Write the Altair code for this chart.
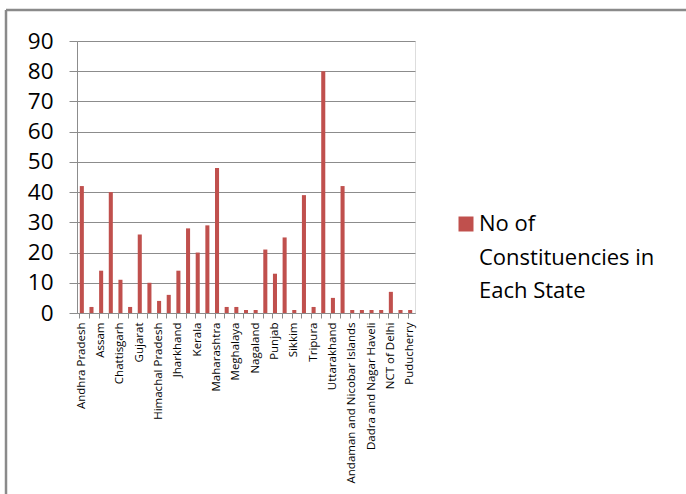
import altair as alt
import pandas as pd

states = [
    "Andhra Pradesh", "Arunachal Pradesh", "Assam", "Bihar", "Chattisgarh", "Goa",
    "Gujarat", "Haryana", "Himachal Pradesh", "Jammu and Kashmir", "Jharkhand",
    "Karnataka", "Kerala", "Madhya Pradesh", "Maharashtra", "Manipur", "Meghalaya",
    "Mizoram", "Nagaland", "Odisha", "Punjab", "Rajasthan", "Sikkim", "Tamil Nadu",
    "Tripura", "Uttar Pradesh", "Uttarakhand", "West Bengal",
    "Andaman and Nicobar Islands", "Chandigarh", "Dadra and Nagar Haveli",
    "Daman and Diu", "NCT of Delhi", "Lakshadweep", "Puducherry",
]
seats = [42, 2, 14, 40, 11, 2, 26, 10, 4, 6, 14, 28, 20, 29, 48, 2, 2,
         1, 1, 21, 13, 25, 1, 39, 2, 80, 5, 42, 1, 1, 1, 1, 7, 1, 1]
series_name = "No of Constituencies in Each State"
legend_lines = ["No of", "Constituencies in", "Each State"]
y_ticks = list(range(0, 100, 10))

df = pd.DataFrame({"State": states, "Seats": seats, "Series": series_name})

state_js = "[" + ",".join("'" + s + "'" for s in states) + "]"
label_expr = f"indexof({state_js}, datum.value) % 2 == 0 ? datum.label : ''"
legend_expr = "[" + ",".join("'" + s + "'" for s in legend_lines) + "]"

GRID = "#8c8c8c"
FONT = "Open Sans"

bars = alt.Chart(df).mark_bar().encode(
    x=alt.X(
        "State:N", sort=states,
        scale=alt.Scale(paddingInner=0.58, paddingOuter=0.29),
        axis=alt.Axis(
            title=None, labelAngle=-90, labelExpr=label_expr, bandPosition=0,
            tickSize=5, tickColor=GRID, domainColor=GRID, labelPadding=4,
            labelFont=FONT, labelFontSize=11.5, labelColor="#000", grid=False,
        ),
    ),
    y=alt.Y(
        "Seats:Q", scale=alt.Scale(domain=[0, 90], nice=False),
        axis=alt.Axis(
            title=None, values=y_ticks, grid=True, gridColor=GRID, tickColor=GRID,
            domainColor=GRID, tickSize=8, labelPadding=16, labelFont=FONT,
            labelFontSize=22.5, labelColor="#000",
        ),
    ),
    color=alt.Color(
        "Series:N", scale=alt.Scale(range=["#c0504d"]),
        legend=alt.Legend(
            title=None, orient="none", legendX=378, legendY=172, padding=0,
            labelExpr=legend_expr, symbolType="square", symbolSize=225,
            symbolStrokeWidth=0, labelOffset=2, labelFont=FONT, labelFontSize=22,
            labelColor="#000", labelLimit=400,
        ),
    ),
)

one = pd.DataFrame({"k": [0]})
frame_left = alt.Chart(one).mark_rule(color="#8a8a8a", strokeWidth=2.5).encode(
    x=alt.value(-71), y=alt.value(-31), y2=alt.value(470)
)
frame_top = alt.Chart(one).mark_rule(color="#8a8a8a", strokeWidth=2.5).encode(
    x=alt.value(-71), x2=alt.value(700), y=alt.value(-31)
)

chart = alt.layer(frame_left, frame_top, bars).properties(
    width=338, height=272,
    autosize=alt.AutoSizeParams(type="none"),
    padding={"left": 77, "top": 41, "right": 271, "bottom": 181},
).configure_view(stroke=None).configure(
    style={"guide-label": {"lineHeight": 33.5}}
)

chart.save("out.html", embed_options={"renderer": "svg", "actions": False})
